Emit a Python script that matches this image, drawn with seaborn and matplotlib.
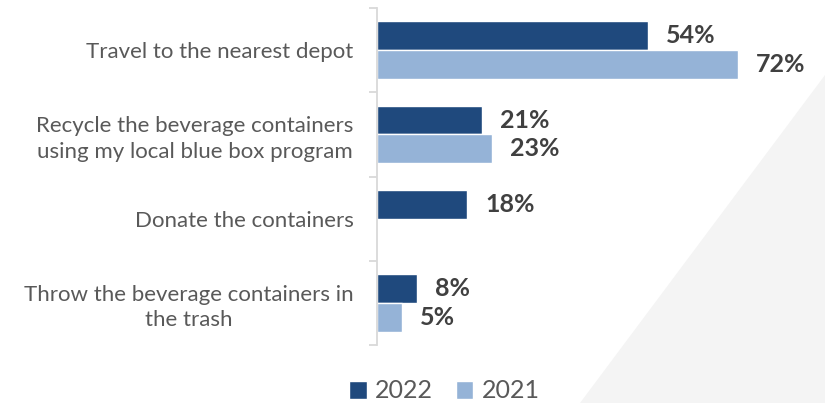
import matplotlib
matplotlib.use("Agg")
import matplotlib.pyplot as plt
from matplotlib.patches import Polygon
import seaborn as sns
import pandas as pd
import numpy as np

# Survey responses: what people do with their beverage containers
categories = [
    "Travel to the nearest depot",
    "Recycle the beverage containers\nusing my local blue box program",
    "Donate the containers",
    "Throw the beverage containers in\nthe trash",
]
years = ["2022", "2021"]
values_2022 = [54, 21, 18, 8]
values_2021 = [72, 23, np.nan, 5]

df = pd.DataFrame({
    "category": categories * 2,
    "year": [years[0]] * 4 + [years[1]] * 4,
    "pct": values_2022 + values_2021,
})

sns.set_theme(style="white")
plt.rcParams["font.family"] = ["Lato", "DejaVu Sans"]

W, H = 825, 403
fig = plt.figure(figsize=(W / 100, H / 100), dpi=100)
fig.patch.set_facecolor("white")

# soft grey diagonal panel in the lower right corner
fig.patches.append(Polygon([(1.0, 1 - 75 / H), (580 / W, 0.0), (1.0, 0.0)],
                           closed=True, transform=fig.transFigure,
                           facecolor="#f4f4f4", edgecolor="none", zorder=0))

ax = fig.add_axes([377 / W, (H - 345) / H, (W - 377) / W, 337 / H])
ax.set_facecolor("none")

palette = {"2022": "#1f497d", "2021": "#95b3d7"}
sns.barplot(data=df, y="category", x="pct", hue="year", hue_order=years,
            order=categories, palette=palette, orient="h", width=0.68,
            saturation=1, ax=ax, legend=True)

ax.set_xlim(0, (W - 377) / 5.01)
ax.set_ylim(3.5, -0.5)
ax.set_xlabel("")
ax.set_ylabel("")
ax.set_xticks([])

for cont in ax.containers:
    ax.bar_label(cont, fmt="%d%%", padding=13, fontsize=18,
                 fontweight="bold", color="#404040")

# category labels
ax.tick_params(axis="y", which="major", length=0, pad=17,
               labelsize=16, labelcolor="#595959")
for lbl in ax.get_yticklabels():
    lbl.set_multialignment("center")
    lbl.set_linespacing(1.35)

# separators between categories on the left spine
ax.set_yticks(np.arange(-0.5, 4.0, 1.0), minor=True)
ax.tick_params(axis="y", which="minor", left=True, length=6, width=1.3,
               color="#d9d9d9", direction="out")

for side in ["top", "right", "bottom"]:
    ax.spines[side].set_visible(False)
ax.spines["left"].set_color("#d9d9d9")
ax.spines["left"].set_linewidth(1.3)

handles, labels = ax.get_legend_handles_labels()
ax.get_legend().remove()
fig.legend(handles, labels, loc="center", ncol=2, frameon=False,
           bbox_to_anchor=(444.5 / W, 1 - 391 / H),
           bbox_transform=fig.transFigure,
           fontsize=18, labelcolor="#595959",
           handlelength=0.7, handleheight=0.7,
           handletextpad=0.35, columnspacing=0.9)

fig.savefig("out.png", dpi=100, facecolor=fig.get_facecolor())
